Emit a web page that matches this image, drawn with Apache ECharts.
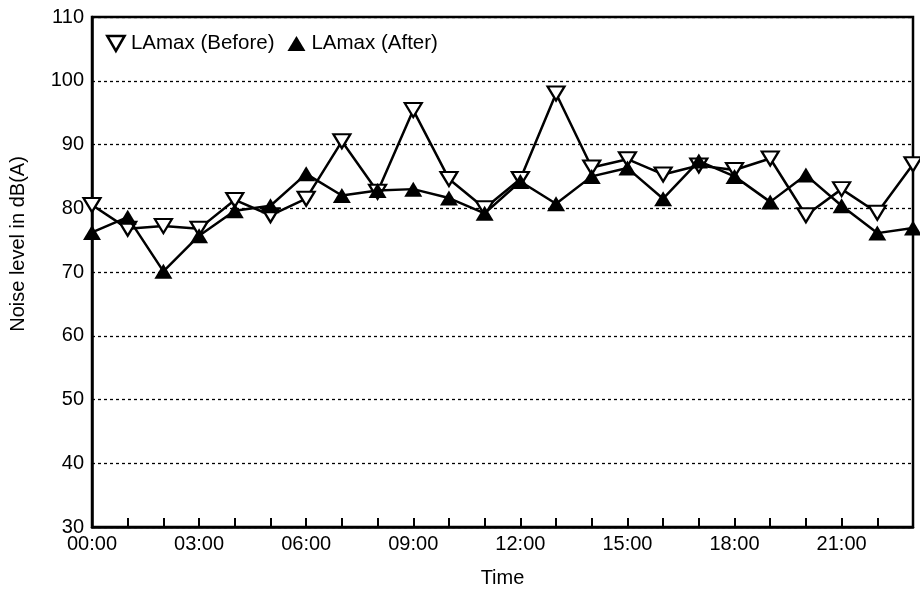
<!DOCTYPE html>
<html>
<head>
<meta charset="utf-8">
<script src="https://cdn.jsdelivr.net/npm/echarts@6/dist/echarts.min.js"></script>
<style>
  html, body { margin: 0; padding: 0; background: #fff; }
  #chart { width: 920px; height: 595px; }
</style>
</head>
<body>
<div id="chart"></div>
<script>
// Hourly time labels (00:00 … 23:00)
const hours = ['00:00','01:00','02:00','03:00','04:00','05:00','06:00','07:00',
               '08:00','09:00','10:00','11:00','12:00','13:00','14:00','15:00',
               '16:00','17:00','18:00','19:00','20:00','21:00','22:00','23:00'];

// Maximum A-weighted noise level per hour, dB(A)
const lamaxBefore = [80.5, 76.8, 77.2, 76.8, 81.3, 78.9, 81.5, 90.5,
                     82.6, 95.4, 84.6, 80.0, 84.6, 98.0, 86.4, 87.7,
                     85.3, 86.7, 86.0, 87.8, 78.9, 83.0, 79.3, 86.9];
const lamaxAfter  = [76.2, 78.6, 70.1, 75.7, 79.6, 80.4, 85.4, 82.0,
                     82.8, 83.0, 81.6, 79.2, 84.2, 80.7, 85.0, 86.3,
                     81.5, 87.4, 85.0, 81.0, 85.2, 80.4, 76.1, 76.9];

const yTicks = { min: 30, max: 110, step: 10 };

const FONT = 'Liberation Sans, Arial, sans-serif';
const downTriangle = 'path://M0,0L2,0L1,1.732Z';

const chart = echarts.init(document.getElementById('chart'), null, { renderer: 'canvas' });

chart.setOption({
  animation: false,
  backgroundColor: '#fff',
  textStyle: { fontFamily: FONT, color: '#000' },
  grid: {
    left: 92, top: 17, right: 7, bottom: 68,
    containLabel: false,
    outerBoundsMode: 'none',
    show: true, borderColor: '#000', borderWidth: 2.5, backgroundColor: 'transparent'
  },
  legend: {
    left: 106, top: 33, padding: 0,
    itemWidth: 18, itemHeight: 15, itemGap: 13,
    textStyle: { fontSize: 20.5, fontFamily: FONT, color: '#000', padding: [0, 0, 0, 1] },
    data: [
      { name: 'LAmax (Before)', icon: downTriangle,
        itemStyle: { color: '#fff', borderColor: '#000', borderWidth: 2.5 } },
      { name: 'LAmax (After)', icon: 'triangle',
        itemStyle: { color: '#000', borderColor: '#000', borderWidth: 0 } }
    ]
  },
  xAxis: {
    type: 'category',
    data: hours,
    boundaryGap: false,
    name: 'Time',
    nameLocation: 'middle',
    nameGap: 41,
    nameTextStyle: { fontSize: 20, fontFamily: FONT, color: '#000' },
    axisLine: { show: true, lineStyle: { color: '#000', width: 2.5 } },
    axisTick: { show: true, inside: true, length: 9, interval: 0,
                lineStyle: { color: '#000', width: 2 } },
    axisLabel: { interval: 2, fontSize: 20, fontFamily: FONT, color: '#000', margin: 7 },
    splitLine: { show: false }
  },
  yAxis: {
    type: 'value',
    min: yTicks.min, max: yTicks.max, interval: yTicks.step,
    axisLine: { show: true, lineStyle: { color: '#000', width: 2.5 } },
    axisTick: { show: false },
    axisLabel: { fontSize: 20, fontFamily: FONT, color: '#000', margin: 8 },
    splitLine: {
      show: true,
      lineStyle: { color: '#000', width: 1.3, type: [3, 3] }
    }
  },
  graphic: [{
    type: 'text',
    x: 18, y: 244,
    rotation: Math.PI / 2,
    style: {
      text: 'Noise level in dB(A)',
      font: '20px ' + FONT,
      fill: '#000',
      align: 'center',
      verticalAlign: 'middle'
    }
  }],
  series: [
    {
      name: 'LAmax (Before)',
      type: 'line',
      data: lamaxBefore,
      symbol: downTriangle,
      symbolSize: [17, 14],
      showAllSymbol: true,
      lineStyle: { color: '#000', width: 2.5 },
      itemStyle: { color: '#fff', borderColor: '#000', borderWidth: 2.2 },
      emphasis: { disabled: true },
      z: 2
    },
    {
      name: 'LAmax (After)',
      type: 'line',
      data: lamaxAfter,
      symbol: 'triangle',
      symbolSize: [18, 15],
      showAllSymbol: true,
      lineStyle: { color: '#000', width: 2.5 },
      itemStyle: { color: '#000', borderColor: '#000', borderWidth: 0 },
      emphasis: { disabled: true },
      z: 3
    }
  ]
});
</script>
</body>
</html>
